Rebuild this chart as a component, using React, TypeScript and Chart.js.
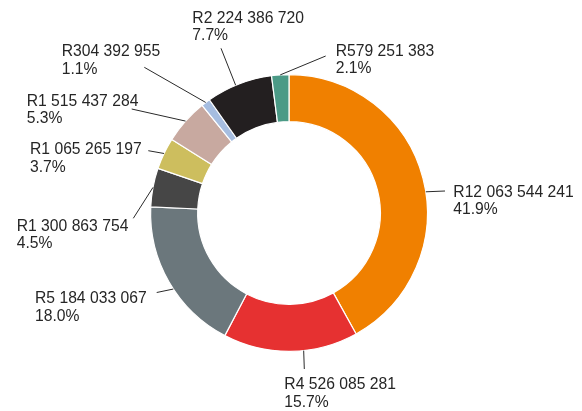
import { useEffect, useRef } from "react";
import { Chart, registerables } from "chart.js";

Chart.register(...registerables);

// ---- data ----
const values = [
  12063544241, 4526085281, 5184033067, 1300863754, 1065265197, 1515437284,
  304392955, 2224386720, 579251383,
];
const percents = [41.9, 15.7, 18.0, 4.5, 3.7, 5.3, 1.1, 7.7, 2.1];
const colors = [
  "#F08000",
  "#E63131",
  "#6B777C",
  "#464646",
  "#CDBE5E",
  "#C8A9A0",
  "#A6BDE0",
  "#231F20",
  "#4B9A86",
];

// ---- label layout (pixels relative to the doughnut centre) ----
// tx/ty: text left / first baseline; lx/ly: outer end of leader; shift: degrees added to slice mid-angle
const labelLayout = [
  { tx: 164.3, ty: -16.3, lx: 156, ly: -22, shift: 5.7 },
  { tx: -4.7, ty: 176, lx: 15.3, ly: 156, shift: -5.4 },
  { tx: -254, ty: 90.3, lx: -132.3, ly: 79.5, shift: -3.4 },
  { tx: -272.3, ty: 17.7, lx: -155.7, ly: 5.3, shift: 0 },
  { tx: -259, ty: -59, lx: -140.7, ly: -62.3, shift: 0 },
  { tx: -262.3, ty: -107.3, lx: -157.3, ly: -104, shift: 0 },
  { tx: -227.3, ty: -157, lx: -144.7, ly: -145.7, shift: 0 },
  { tx: -96.7, ty: -190.3, lx: -68, ly: -164.7, shift: -1.5 },
  { tx: 46.7, ty: -157.3, lx: 36.7, ly: -157, shift: 0 },
];

const fmtValue = (v: number) =>
  "R" + Math.round(v).toString().replace(/\B(?=(\d{3})+(?!\d))/g, " ");

const FONT = '15.7px "Liberation Sans", Arial, sans-serif';
const LINE_GAP = 17.6;

const outsideLabels = {
  id: "outsideLabels",
  afterDraw(chart: any) {
    const ctx = chart.ctx;
    const meta = chart.getDatasetMeta(0);
    ctx.save();
    ctx.font = FONT;
    ctx.fillStyle = "#262626";
    ctx.strokeStyle = "#2a2a2a";
    ctx.lineWidth = 1;
    ctx.textAlign = "left";
    ctx.textBaseline = "alphabetic";
    meta.data.forEach((arc: any, i: number) => {
      const p = arc.getProps(
        ["x", "y", "startAngle", "endAngle", "outerRadius"],
        true
      );
      const L = labelLayout[i];
      const a = (p.startAngle + p.endAngle) / 2 + (L.shift * Math.PI) / 180;
      const px = p.x + Math.cos(a) * p.outerRadius;
      const py = p.y + Math.sin(a) * p.outerRadius;
      ctx.beginPath();
      ctx.moveTo(px, py);
      ctx.lineTo(p.x + L.lx, p.y + L.ly);
      ctx.stroke();
      ctx.fillText(fmtValue(values[i]), p.x + L.tx, p.y + L.ty);
      ctx.fillText(percents[i].toFixed(1) + "%", p.x + L.tx, p.y + L.ty + LINE_GAP);
    });
    ctx.restore();
  },
};

export default function App() {
  const ref = useRef<HTMLCanvasElement>(null);
  useEffect(() => {
    if (!ref.current) return;
    const chart = new Chart(ref.current, {
      type: "doughnut",
      data: {
        labels: values.map(fmtValue),
        datasets: [
          {
            data: values,
            backgroundColor: colors,
            borderColor: "#ffffff",
            borderWidth: 1.2,
          },
        ],
      },
      options: {
        responsive: false,
        animation: false,
        cutout: "66%",
        layout: { padding: { top: 74, bottom: 59, left: 150, right: 154 } },
        plugins: {
          legend: { display: false },
          tooltip: { enabled: false },
        },
      },
      plugins: [outsideLabels],
    });
    return () => chart.destroy();
  }, []);
  return (
    <div
      style={{
        position: "absolute",
        left: 0,
        top: 0,
        width: 582,
        height: 411,
        background: "#fff",
      }}
    >
      <canvas
        ref={ref}
        width={582}
        height={411}
        style={{ display: "block", width: 582, height: 411 }}
      />
    </div>
  );
}
